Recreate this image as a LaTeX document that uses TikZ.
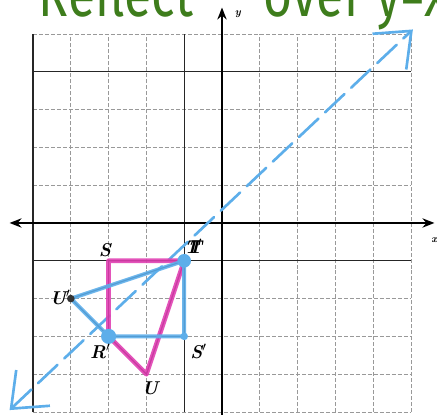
\documentclass[tikz,border=0pt]{standalone}
\usepackage{fontspec}
\newfontfamily\handfont{Fira Sans}
\usetikzlibrary{arrows.meta}
\definecolor{hlpink}{HTML}{E040B2}
\definecolor{hlblue}{HTML}{5DAEEA}
\definecolor{pengreen}{HTML}{3E7D1C}
\begin{document}
\begin{tikzpicture}[
    gridline/.style={gray!80,line width=0.5pt,dash pattern=on 3pt off 1.5pt},
    boldgrid/.style={black!85,line width=0.8pt},
    axisline/.style={black,line width=1.6pt},
    pinkside/.style={hlpink,line width=3.6pt,line cap=round,line join=round,opacity=0.9},
    blueside/.style={hlblue,line width=3pt,line cap=round,line join=round,opacity=0.9},
    printside/.style={black,line width=0.9pt},
    vlabel/.style={font=\fontsize{14}{14}\selectfont\bfseries\itshape,inner sep=0pt},
    penline/.style={hlblue,line width=2pt,line cap=round,dash pattern=on 20pt off 7pt},
    pentext/.style={pengreen,font=\handfont\fontsize{48}{48}\selectfont,anchor=base west,inner sep=0pt,xscale=0.78,transform shape}]
    \useasboundingbox (-5.873,-5.079) rectangle (5.688,5.899);
    \clip (-5.873,-5.079) rectangle (5.688,5.899);
    % grid
    \draw[gridline] (-5,-5) grid (5,5);
    \draw[boldgrid] (-1,-5)--(-1,5) (-5,-1)--(5,-1) (-5,4)--(5,4) (-5,-5)--(-5,5);
    % axes
    \draw[axisline,{Stealth[length=9pt,width=7pt]}-{Stealth[length=9pt,width=7pt]}] (-5.62,0)--(5.62,0);
    \draw[axisline,-{Stealth[length=9pt,width=7pt]}] (0,-5.2)--(0,5.7);
    \node[font=\footnotesize\bfseries\itshape] (xlab) at (5.62,-0.45) {x};
    \node[font=\footnotesize\bfseries\itshape] (ylab) at (0.42,5.52) {y};
    % vertices
    \coordinate (R) at (-3,-3);
    \coordinate (S) at (-3,-1);
    \coordinate (T) at (-1,-1);
    \coordinate (U) at (-2,-4);
    \coordinate (Sp) at (-1,-3);
    \coordinate (Up) at (-4,-2);
    % line of reflection y=x
    \coordinate (lo) at (-5.62,-4.95);
    \coordinate (hi) at (5.05,5.12);
    \draw[penline,{Straight Barb[length=8mm,width=13mm,line width=2pt]}-{Straight Barb[length=8mm,width=13mm,line width=2pt]}] (lo)--(hi);
    % original and image
    \draw[printside] (R)--(S)--(T)--(U)--cycle;
    \draw[printside] (T)--(Up)--(R)--(Sp)--cycle;
    \draw[pinkside] (R)--(S)--(T)--(U)--cycle;
    \draw[blueside] (T)--(Up)--(R)--(Sp)--cycle;
    \fill[hlblue] (T) circle (0.18) (R) circle (0.2) (Sp) circle (0.1);
    \fill[black!80] (Up) circle (0.1);
    \node[vlabel] (Slab) at (-3.1,-0.72) {S};
    \node[vlabel] (Tlab) at (-0.72,-0.62) {T\llap{T\kern-1pt$'$}};
    \node[vlabel] (Uplab) at (-4.28,-1.96) {U$'$};
    \node[vlabel] (Rplab) at (-3.22,-3.4) {R$'$};
    \node[vlabel] (Splab) at (-0.62,-3.4) {S$'$};
    \node[vlabel] (Ulab) at (-1.9,-4.37) {U};
    % note
    \node[pentext] (note1) at (-4.85,5.45) {Reflect};
    \node[pentext] (note2) at (1.1,5.45) {over y=x};
\end{tikzpicture}
\end{document}
